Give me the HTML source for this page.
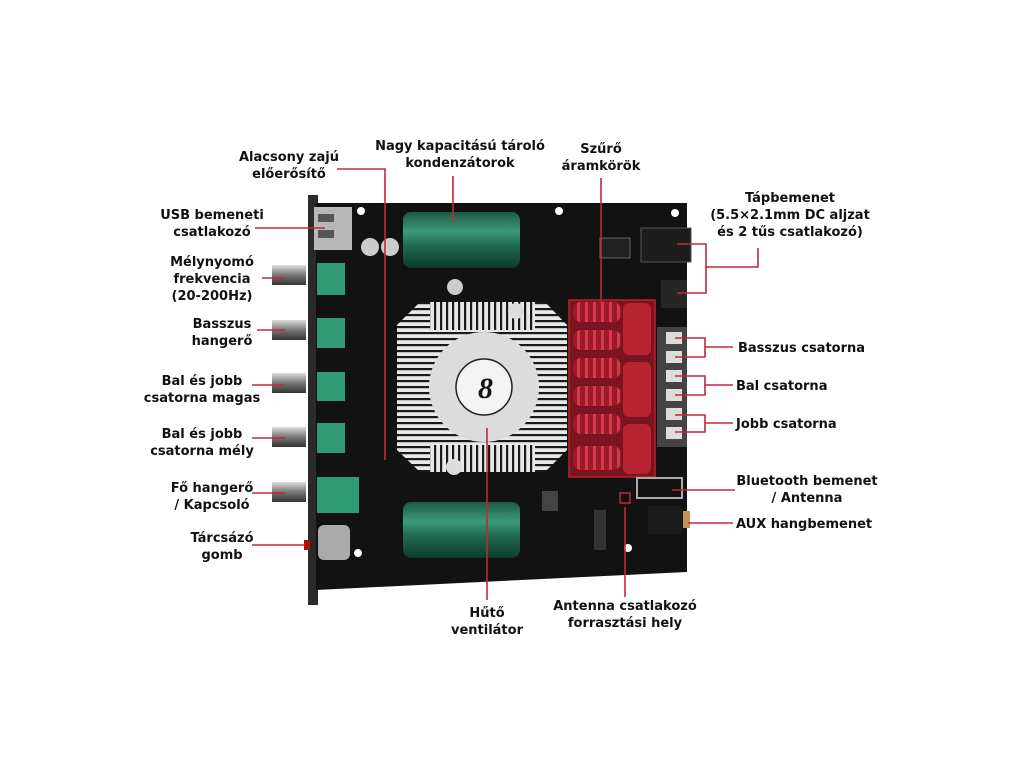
<!DOCTYPE html>
<html><head><meta charset="utf-8"><style>
html,body{margin:0;padding:0;background:#fff;}
svg{display:block}
text{font-family:"DejaVu Sans","Liberation Sans",sans-serif;font-weight:bold;font-size:13px;fill:#111}
</style></head><body>
<svg width="1024" height="768" viewBox="0 0 1024 768" xmlns="http://www.w3.org/2000/svg">
<defs>
<pattern id="hf" width="6" height="6" patternUnits="userSpaceOnUse"><rect width="6" height="6" fill="#e8e8e8"/><rect y="2" width="6" height="2.2" fill="#1a1a1a"/></pattern>
<pattern id="vf" width="6" height="6" patternUnits="userSpaceOnUse"><rect width="6" height="6" fill="#e8e8e8"/><rect x="2" width="2.2" height="6" fill="#1a1a1a"/></pattern>
<pattern id="coil" width="8" height="6" patternUnits="userSpaceOnUse"><rect width="8" height="6" fill="#9c1a2a"/><rect x="1" width="3" height="6" fill="#d23a4c"/></pattern>
<linearGradient id="cap" x1="0" y1="0" x2="0" y2="1"><stop offset="0" stop-color="#1d5a44"/><stop offset="0.35" stop-color="#3c9a7a"/><stop offset="0.6" stop-color="#1f6a50"/><stop offset="1" stop-color="#0f3a2c"/></linearGradient>
<linearGradient id="knob" x1="0" y1="0" x2="0" y2="1"><stop offset="0" stop-color="#ddd"/><stop offset="0.5" stop-color="#777"/><stop offset="1" stop-color="#333"/></linearGradient>
</defs>
<!-- panel -->
<rect x="308" y="195" width="10" height="410" fill="#2a2a2a"/>
<!-- board -->
<polygon points="316,203 687,203 687,572 316,590" fill="#121212"/>
<!-- USB -->
<rect x="314" y="207" width="38" height="43" fill="#b8b8b8"/><rect x="318" y="214" width="16" height="8" fill="#555"/><rect x="318" y="230" width="16" height="8" fill="#555"/>
<!-- small caps -->
<circle cx="370" cy="247" r="9" fill="#ccc"/><circle cx="390" cy="247" r="9" fill="#ccc"/>
<circle cx="455" cy="287" r="8" fill="#ccc"/>
<!-- top cap -->
<rect x="403" y="212" width="117" height="56" rx="8" fill="url(#cap)"/>
<!-- bottom cap -->
<rect x="403" y="502" width="117" height="56" rx="8" fill="url(#cap)"/>
<!-- pots -->
<g fill="#2f9a74"><rect x="317" y="263" width="28" height="32"/><rect x="317" y="318" width="28" height="30"/><rect x="317" y="372" width="28" height="29"/><rect x="317" y="423" width="28" height="30"/><rect x="317" y="477" width="42" height="36"/></g>
<rect x="318" y="525" width="32" height="35" rx="6" fill="#aaa"/>
<!-- knobs -->
<g fill="url(#knob)"><rect x="272" y="265" width="34" height="20"/><rect x="272" y="320" width="34" height="20"/><rect x="272" y="373" width="34" height="20"/><rect x="272" y="427" width="34" height="20"/><rect x="272" y="482" width="34" height="20"/></g>
<rect x="304" y="540" width="6" height="10" fill="#a11"/>
<!-- heatsink -->
<polygon points="420,302 545,302 567,325 567,450 545,472 420,472 397,450 397,325" fill="url(#hf)"/>
<polygon points="430,302 535,302 535,330 430,330" fill="url(#vf)"/>
<polygon points="430,445 535,445 535,472 430,472" fill="url(#vf)"/>
<circle cx="484" cy="387" r="55" fill="#dcdcdc"/>
<circle cx="484" cy="387" r="28" fill="#f4f4f4" stroke="#222" stroke-width="1.5"/>
<text x="478" y="398" style="font-size:30px;font-family:'Liberation Serif',serif;font-style:italic">8</text>
<circle cx="516" cy="311" r="8" fill="#ddd"/><circle cx="454" cy="467" r="8" fill="#ddd"/>
<!-- filter box -->
<rect x="569" y="300" width="86" height="177" fill="#7a1420" stroke="#b22" stroke-width="1.5"/>
<g fill="url(#coil)"><rect x="573" y="302" width="48" height="20" rx="8"/><rect x="573" y="330" width="48" height="20" rx="8"/><rect x="573" y="358" width="48" height="20" rx="8"/><rect x="573" y="386" width="48" height="20" rx="8"/><rect x="573" y="414" width="48" height="20" rx="8"/><rect x="573" y="446" width="48" height="24" rx="8"/></g>
<g fill="#b7232f"><rect x="623" y="303" width="28" height="52" rx="6"/><rect x="623" y="362" width="28" height="55" rx="6"/><rect x="623" y="424" width="28" height="50" rx="6"/></g>
<!-- terminals -->
<rect x="657" y="327" width="30" height="120" fill="#444"/>
<g fill="#ddd"><rect x="666" y="332" width="16" height="12"/><rect x="666" y="351" width="16" height="12"/><rect x="666" y="370" width="16" height="12"/><rect x="666" y="389" width="16" height="12"/><rect x="666" y="408" width="16" height="12"/><rect x="666" y="427" width="16" height="12"/></g>
<!-- DC jack, diode, 2pin -->
<rect x="641" y="228" width="50" height="34" fill="#1d1d1d" stroke="#555"/>
<rect x="600" y="238" width="30" height="20" fill="#222" stroke="#666"/>
<rect x="661" y="280" width="26" height="28" fill="#262626"/>
<!-- BT antenna & aux -->
<rect x="637" y="478" width="45" height="20" fill="none" stroke="#aaa" stroke-width="2"/>
<rect x="648" y="506" width="34" height="28" fill="#1b1b1b"/><rect x="683" y="511" width="7" height="17" fill="#c8915a"/>
<rect x="594" y="510" width="12" height="40" fill="#333"/>
<rect x="542" y="491" width="16" height="20" fill="#444"/>
<circle cx="361" cy="211" r="4" fill="#fff"/><circle cx="675" cy="213" r="4" fill="#fff"/><circle cx="358" cy="553" r="4" fill="#fff"/><circle cx="628" cy="548" r="4" fill="#fff"/><circle cx="559" cy="211" r="4" fill="#fff"/>
<!-- leader lines -->
<g stroke="#c0283a" stroke-width="1.6" fill="none">
<polyline points="337,169 385,169 385,460"/>
<line x1="453" y1="176" x2="453" y2="222"/>
<line x1="601" y1="178" x2="601" y2="303"/>
<polyline points="758,248 758,267 706,267"/>
<polyline points="677,244 706,244 706,293 677,293"/>
<line x1="255" y1="228" x2="325" y2="228"/>
<line x1="262" y1="278" x2="285" y2="278"/>
<line x1="257" y1="330" x2="285" y2="330"/>
<line x1="252" y1="385" x2="285" y2="385"/>
<line x1="252" y1="438" x2="285" y2="438"/>
<line x1="252" y1="493" x2="285" y2="493"/>
<line x1="252" y1="545" x2="305" y2="545"/>
<polyline points="675,338 705,338 705,357 675,357"/><line x1="705" y1="347" x2="733" y2="347"/>
<polyline points="675,376 705,376 705,395 675,395"/><line x1="705" y1="385" x2="733" y2="385"/>
<polyline points="675,415 705,415 705,432 675,432"/><line x1="705" y1="423" x2="733" y2="423"/>
<line x1="672" y1="490" x2="735" y2="490"/>
<line x1="688" y1="523" x2="733" y2="523"/>
<line x1="487" y1="428" x2="487" y2="600"/>
<line x1="625" y1="507" x2="625" y2="597"/>
</g>
<rect x="620" y="493" width="10" height="10" fill="none" stroke="#c0283a" stroke-width="1.5"/>
<!-- labels -->
<g text-anchor="middle">
<text x="289" y="161">Alacsony zajú</text><text x="289" y="178">előerősítő</text>
<text x="460" y="150">Nagy kapacitású tároló</text><text x="460" y="167">kondenzátorok</text>
<text x="601" y="153">Szűrő</text><text x="601" y="170">áramkörök</text>
<text x="790" y="202">Tápbemenet</text><text x="790" y="219">(5.5×2.1mm DC aljzat</text><text x="790" y="236">és 2 tűs csatlakozó)</text>
<text x="212" y="219">USB bemeneti</text><text x="212" y="236">csatlakozó</text>
<text x="212" y="266">Mélynyomó</text><text x="212" y="283">frekvencia</text><text x="212" y="300">(20-200Hz)</text>
<text x="222" y="328">Basszus</text><text x="222" y="345">hangerő</text>
<text x="202" y="385">Bal és jobb</text><text x="202" y="402">csatorna magas</text>
<text x="202" y="438">Bal és jobb</text><text x="202" y="455">csatorna mély</text>
<text x="212" y="492">Fő hangerő</text><text x="212" y="509">/ Kapcsoló</text>
<text x="222" y="542">Tárcsázó</text><text x="222" y="559">gomb</text>
<text x="487" y="617">Hűtő</text><text x="487" y="634">ventilátor</text>
<text x="625" y="610">Antenna csatlakozó</text><text x="625" y="627">forrasztási hely</text>
<text x="807" y="485">Bluetooth bemenet</text><text x="807" y="502">/ Antenna</text>
</g>
<text x="738" y="352">Basszus csatorna</text>
<text x="736" y="390">Bal csatorna</text>
<text x="736" y="428">Jobb csatorna</text>
<text x="736" y="528">AUX hangbemenet</text>
</svg>
</body></html>
